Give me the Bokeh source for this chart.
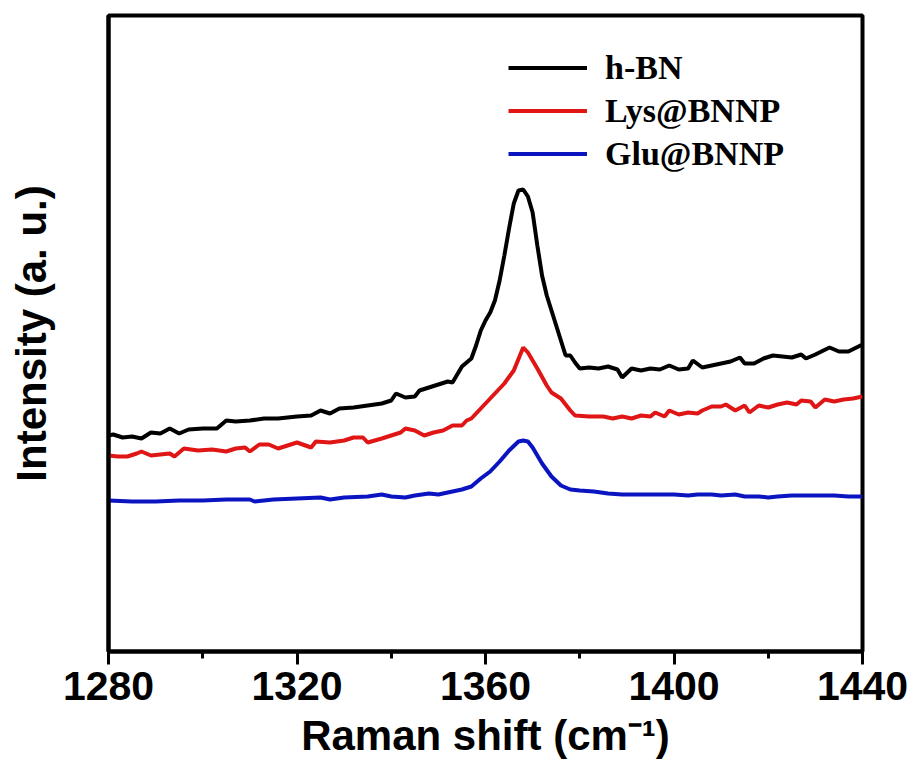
from bokeh.plotting import figure
from bokeh.models import Range1d, SingleIntervalTicker, FixedTicker, Legend, LegendItem
from bokeh.embed import file_html
from bokeh.resources import INLINE

# Raman shift (cm^-1) and intensity (a.u.)
hbn_x = [1280, 1281, 1283, 1285, 1287, 1289, 1291, 1293, 1295, 1297, 1300, 1303, 1305, 1307, 1310,
         1313, 1316, 1320, 1323, 1325, 1327, 1329, 1332, 1335, 1338, 1340, 1341, 1343, 1345, 1346,
         1348, 1350, 1352, 1353, 1355, 1357, 1358, 1359, 1360, 1361, 1362, 1363, 1364, 1365, 1366,
         1367, 1368, 1369, 1370, 1371, 1372, 1373, 1374, 1375, 1376, 1377, 1378, 1379, 1380, 1382,
         1384, 1386, 1388, 1389, 1391, 1393, 1395, 1397, 1399, 1401, 1403, 1404, 1406, 1408, 1410,
         1412, 1414, 1415, 1417, 1419, 1421, 1423, 1425, 1427, 1428, 1430, 1433, 1435, 1437, 1440]
hbn_y = [216, 217, 214, 215, 213, 219, 218, 223, 218, 222, 223, 223, 231, 230, 231,
         233, 233, 235, 236, 241, 238, 243, 244, 246, 248, 251, 258, 254, 255, 261,
         264, 267, 270, 269, 285, 293, 306, 321, 331, 339, 351, 371, 396, 423, 448,
         461, 462, 455, 439, 406, 376, 356, 341, 326, 311, 296, 296, 289, 283, 284,
         283, 285, 282, 274, 283, 281, 283, 282, 286, 282, 283, 291, 284, 286, 288,
         290, 294, 288, 288, 293, 296, 295, 294, 297, 293, 297, 304, 300, 300, 307]

lys_x = [1280, 1282, 1284, 1286, 1287, 1289, 1291, 1293, 1294, 1296, 1299, 1302, 1305, 1307, 1309,
         1310, 1312, 1314, 1316, 1318, 1320, 1323, 1324, 1327, 1330, 1332, 1334, 1335, 1338, 1340,
         1342, 1343, 1345, 1347, 1349, 1351, 1353, 1355, 1356, 1357, 1359, 1361, 1363, 1364, 1366,
         1368, 1369, 1371, 1373, 1374, 1376, 1378, 1379, 1382, 1385, 1387, 1389, 1391, 1393, 1395,
         1396, 1398, 1399, 1401, 1403, 1405, 1406, 1408, 1410, 1411, 1413, 1415, 1416, 1418, 1420,
         1422, 1424, 1426, 1427, 1429, 1430, 1432, 1434, 1436, 1438, 1440]
lys_y = [196, 195, 195, 198, 200, 196, 197, 198, 195, 203, 201, 202, 200, 203, 204,
         200, 207, 207, 203, 206, 209, 204, 210, 209, 211, 214, 214, 209, 213, 216,
         219, 223, 221, 216, 219, 221, 226, 226, 231, 233, 243, 253, 263, 268, 281,
         304, 299, 283, 266, 259, 253, 241, 236, 235, 235, 233, 235, 233, 236, 235,
         239, 235, 241, 237, 239, 238, 241, 245, 245, 247, 241, 246, 239, 246, 244,
         247, 249, 247, 251, 250, 244, 252, 250, 252, 253, 255]

glu_x = [1280, 1285, 1290, 1295, 1300, 1305, 1310, 1311, 1315, 1320, 1325, 1327, 1330, 1335, 1338,
         1340, 1343, 1345, 1348, 1350, 1353, 1355, 1357, 1359, 1361, 1363, 1365, 1367, 1368, 1369,
         1370, 1372, 1374, 1376, 1378, 1380, 1383, 1386, 1389, 1392, 1395, 1398, 1400, 1403, 1405,
         1408, 1410, 1413, 1415, 1418, 1420, 1422, 1425, 1428, 1430, 1434, 1437, 1440]
glu_y = [151, 150, 150, 151, 151, 152, 152, 150, 152, 153, 154, 152, 154, 155, 157,
         155, 154, 156, 158, 157, 160, 162, 165, 173, 180, 190, 201, 210, 211, 210,
         204, 188, 175, 166, 162, 161, 160, 158, 157, 157, 157, 157, 157, 156, 157,
         157, 156, 157, 155, 155, 154, 155, 156, 156, 156, 156, 155, 155]

series_names = ["h-BN", "Lys@BNNP", "Glu@BNNP"]
series_colors = ["#000000", "#e01515", "#0a14c0"]

p = figure(width=914, height=762, output_backend="svg", toolbar_location=None,
           x_range=Range1d(1280, 1440), y_range=Range1d(0, 636),
           min_border_left=108, min_border_right=52, min_border_top=15, min_border_bottom=111)
p.background_fill_color = "white"
p.border_fill_color = "white"
p.grid.visible = False
p.outline_line_color = "black"
p.outline_line_width = 4

r1 = p.line(hbn_x, hbn_y, line_color=series_colors[0], line_width=4)
r2 = p.line(lys_x, lys_y, line_color=series_colors[1], line_width=4)
r3 = p.line(glu_x, glu_y, line_color=series_colors[2], line_width=4)

# x axis
xa = p.xaxis[0]
xa.ticker = SingleIntervalTicker(interval=40, num_minor_ticks=2)
xa.axis_line_width = 4
xa.major_tick_line_width = 3
xa.minor_tick_line_width = 3
xa.major_tick_out = 13
xa.major_tick_in = 0
xa.minor_tick_out = 7
xa.minor_tick_in = 0
xa.major_label_text_font = "Liberation Sans"
xa.major_label_text_font_style = "bold"
xa.major_label_text_font_size = "41px"
xa.major_label_text_color = "black"
xa.major_label_standoff = 7
xa.axis_label = "Raman shift (cm\u207b\u00b9)"
xa.axis_label_text_font = "Liberation Sans"
xa.axis_label_text_font_style = "bold"
xa.axis_label_text_font_size = "42px"
xa.axis_label_text_color = "black"
xa.axis_label_standoff = 9

# y axis (no ticks)
ya = p.yaxis[0]
ya.ticker = FixedTicker(ticks=[])
ya.axis_line_width = 4
ya.major_tick_out = 0
ya.major_tick_in = 0
ya.minor_tick_out = 0
ya.minor_tick_in = 0
ya.axis_label = "Intensity (a. u.)"
ya.axis_label_text_font = "Liberation Sans"
ya.axis_label_text_font_style = "bold"
ya.axis_label_text_font_size = "42px"
ya.axis_label_text_color = "black"
ya.axis_label_standoff = 54

legend = Legend(items=[LegendItem(label=series_names[0], renderers=[r1]),
                       LegendItem(label=series_names[1], renderers=[r2]),
                       LegendItem(label=series_names[2], renderers=[r3])],
                location=(400, 476), padding=0, margin=0, spacing=0,
                label_height=43, glyph_height=43, glyph_width=79, label_standoff=18,
                label_text_font="Liberation Serif", label_text_font_style="bold",
                label_text_font_size="34px", label_text_color="black",
                border_line_color=None, background_fill_alpha=0)
p.add_layout(legend)

open("out.html", "w").write(file_html(p, INLINE))
